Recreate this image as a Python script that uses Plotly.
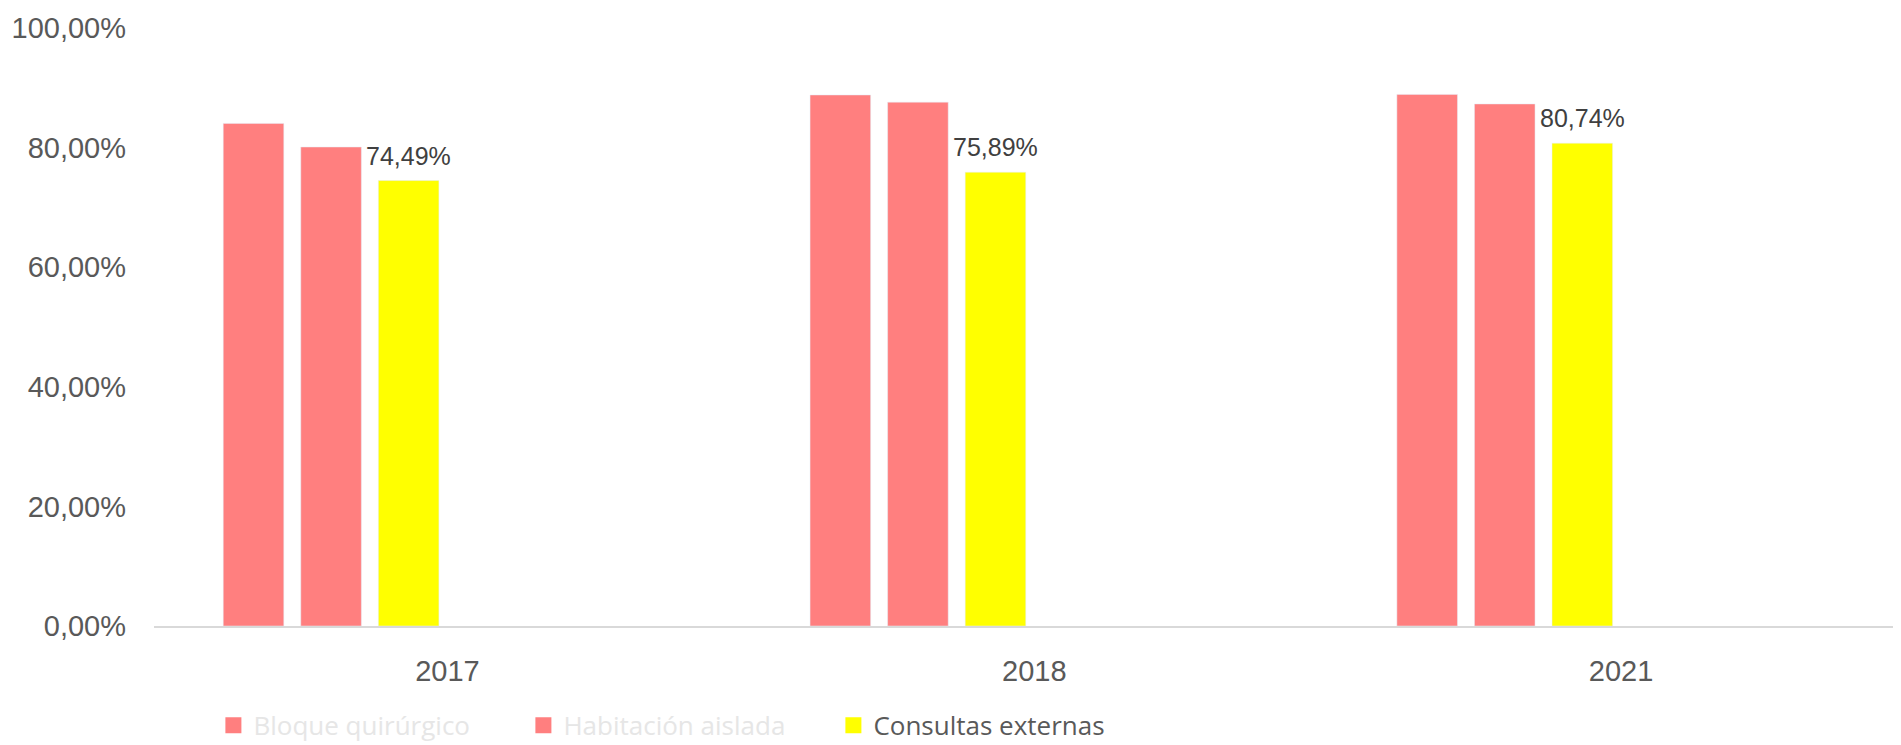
import plotly.graph_objects as go

categories = ["2017", "2018", "2021"]
bloque_quirurgico = [84.05, 88.8, 88.9]
habitacion_aislada = [80.1, 87.6, 87.3]
consultas_externas = [74.49, 75.89, 80.74]
consultas_labels = ["74,49%", "75,89%", "80,74%"]
empty_series = [None, None, None]
y_tickvals = [0, 20, 40, 60, 80, 100]
y_ticktext = ["0,00%", "20,00%", "40,00%", "60,00%", "80,00%", "100,00%"]

PINK = "#FF7F7F"
YELLOW = "#FFFF00"
FONT = "Liberation Sans, Arial, sans-serif"

# layout geometry (page has an 8px body margin)
W, H = 1893, 737
M_L, M_R, M_T, M_B = 146, 0, 20, 119
BARGAP, GROUPGAP = 0.207, 0.219
N_SLOTS = 6
X_RANGE = [-0.5, 2.477]
plot_w = W - M_L - M_R
px_per_cat = plot_w / (X_RANGE[1] - X_RANGE[0])
slot = (1 - BARGAP) / N_SLOTS
yellow_offset = (-(1 - BARGAP) / 2 + 2.5 * slot) * px_per_cat

fig = go.Figure()
fig.add_trace(go.Bar(x=categories, y=bloque_quirurgico, marker_color=PINK,
                     showlegend=False, name="Bloque quirúrgico"))
fig.add_trace(go.Bar(x=categories, y=habitacion_aislada, marker_color=PINK,
                     showlegend=False, name="Habitación aislada"))
fig.add_trace(go.Bar(x=categories, y=consultas_externas, marker_color=YELLOW,
                     showlegend=False, name="Consultas externas"))
for i in range(3):
    fig.add_trace(go.Bar(x=categories, y=empty_series, showlegend=False,
                         marker_color=PINK, hoverinfo="skip"))

# legend entries with larger square icons
legend_items = [
    ("<span style='color:#e6e6e6'>Bloque quirúrgico</span>", PINK),
    ("<span style='color:#e6e6e6'>Habitación aislada</span>", PINK),
    ("<span style='color:#595959'>Consultas externas</span>", YELLOW),
]
for nm, col in legend_items:
    fig.add_trace(go.Scatter(x=[None], y=[None], mode="markers", name=nm,
                             marker=dict(symbol="square", size=16, color=col)))

for idx, (val, lab) in enumerate(zip(consultas_externas, consultas_labels)):
    fig.add_annotation(x=idx, y=val, text=lab, showarrow=False,
                       xanchor="center", yanchor="bottom",
                       xshift=yellow_offset, yshift=9,
                       font=dict(family=FONT, size=25, color="#404040"))

fig.update_layout(
    width=W, height=H,
    barmode="group", bargap=BARGAP, bargroupgap=GROUPGAP,
    plot_bgcolor="white", paper_bgcolor="white",
    margin=dict(l=M_L, r=M_R, t=M_T, b=M_B, autoexpand=False),
    font=dict(family=FONT, size=24, color="#595959"),
    showlegend=True,
    legend=dict(
        orientation="h", x=0.034, xanchor="left", y=-0.166, yanchor="middle",
        entrywidth=265, entrywidthmode="pixels", itemsizing="trace",
        font=dict(family="Open Sans, sans-serif", size=26, color="#595959"),
        itemclick=False,
    ),
)
fig.update_xaxes(
    type="category",
    range=X_RANGE, automargin=False,
    showline=True, linecolor="#d9d9d9", linewidth=1.5,
    showgrid=False, ticks="", ticklabelstandoff=18,
    tickfont=dict(family=FONT, size=29, color="#595959"),
)
fig.update_yaxes(
    range=[0, 100], tickvals=y_tickvals, ticktext=y_ticktext, automargin=False,
    showgrid=False, zeroline=False, showline=False, ticks="",
    ticklabelstandoff=27,
    tickfont=dict(family=FONT, size=29, color="#595959"),
)

fig.write_html("out.html")
